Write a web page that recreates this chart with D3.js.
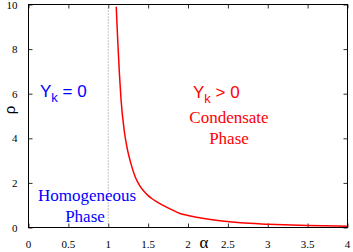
<!DOCTYPE html>
<html>
<head>
<meta charset="utf-8">
<script src="https://cdn.jsdelivr.net/npm/d3@7"></script>
<style>
  body { margin: 0; background: #fff; }
  svg { display: block; }
  .tick-label { font-family: "Liberation Serif", serif; font-size: 11px; fill: #000; }
</style>
</head>
<body>
<div id="chart"></div>
<script>
// critical line rho_c(alpha)
const alphaVals = [1.10, 1.12, 1.14, 1.16, 1.20, 1.24, 1.28, 1.34, 1.40, 1.45, 1.5, 1.55, 1.6, 1.7, 1.8, 1.9, 2.0, 2.16, 2.4, 2.66, 3.0, 3.5, 4.0];
const rhoVals   = [9.9, 8.3, 6.9, 5.75, 4.35, 3.5, 2.92, 2.25, 1.84, 1.61, 1.43, 1.29, 1.17, 0.97, 0.79, 0.63, 0.54, 0.43, 0.30, 0.21, 0.15, 0.09, 0.06];

const xTicks = [0, 0.5, 1, 1.5, 2, 2.5, 3, 3.5, 4];
const yTicks = [0, 2, 4, 6, 8, 10];
const boundaryAlpha = 1;

const width = 353, height = 252;
const margin = { top: 4, right: 6, bottom: 25, left: 28 };
const iw = width - margin.left - margin.right;
const ih = height - margin.top - margin.bottom;

const svg = d3.select('#chart').append('svg')
  .attr('width', width)
  .attr('height', height);

const g = svg.append('g')
  .attr('transform', `translate(${margin.left + 0.5},${margin.top + 0.5})`);

const x = d3.scaleLinear().domain([0, 4]).range([0, iw]);
const y = d3.scaleLinear().domain([0, 10]).range([ih, 0]);

// inward ticks on all four sides
const fmt = d => String(d);
g.append('g').attr('transform', `translate(0,${ih})`)
  .call(d3.axisBottom(x).tickValues(xTicks).tickSize(-4).tickFormat(''));
g.append('g')
  .call(d3.axisTop(x).tickValues(xTicks).tickSize(-4).tickFormat(''));
g.append('g')
  .call(d3.axisLeft(y).tickValues(yTicks).tickSize(-4).tickFormat(''));
g.append('g').attr('transform', `translate(${iw},0)`)
  .call(d3.axisRight(y).tickValues(yTicks).tickSize(-4).tickFormat(''));
g.selectAll('.domain').remove();
g.selectAll('.tick line').attr('stroke', '#333');

// tick labels
g.selectAll('.xl').data(xTicks).join('text')
  .attr('class', 'tick-label')
  .attr('x', d => x(d))
  .attr('y', ih + 20)
  .attr('text-anchor', 'middle')
  .text(fmt);
g.selectAll('.yl').data(yTicks).join('text')
  .attr('class', 'tick-label')
  .attr('x', -11)
  .attr('y', d => y(d) + 4)
  .attr('text-anchor', 'end')
  .text(fmt);

// phase boundary at alpha = 1
g.append('line')
  .attr('x1', x(boundaryAlpha)).attr('x2', x(boundaryAlpha))
  .attr('y1', 0).attr('y2', ih)
  .attr('stroke', '#888')
  .attr('stroke-dasharray', '1,2');

// curve
const pts = alphaVals.map((a, i) => [a, rhoVals[i]]);
g.append('path')
  .datum(pts)
  .attr('fill', 'none')
  .attr('stroke', '#ff0000')
  .attr('stroke-width', 1.5)
  .attr('d', d3.line().x(d => x(d[0])).y(d => y(d[1])).curve(d3.curveMonotoneX));

// frame
g.append('rect')
  .attr('width', iw).attr('height', ih)
  .attr('fill', 'none')
  .attr('stroke', '#000');

// axis titles
svg.append('text')
  .attr('x', 204).attr('y', 248)
  .attr('text-anchor', 'middle')
  .attr('font-family', 'Liberation Serif, serif')
  .attr('font-size', 17)
  .text('α');
svg.append('text')
  .attr('transform', 'translate(9,110) rotate(-90)')
  .attr('text-anchor', 'middle')
  .attr('dominant-baseline', 'central')
  .attr('font-family', 'Liberation Sans, sans-serif')
  .attr('font-size', 15)
  .text('ρ');

// annotations
const yk = (tx, ty, rest, color) => {
  const t = svg.append('text')
    .attr('x', tx).attr('y', ty)
    .attr('font-family', 'Liberation Sans, sans-serif')
    .attr('font-size', 17)
    .attr('fill', color);
  t.append('tspan').text('Y');
  t.append('tspan').attr('font-size', 13).attr('dy', 5).text('k');
  t.append('tspan').attr('dy', -5).text(rest);
};
yk(40, 97, ' = 0', '#0000ff');
yk(193, 98, ' > 0', '#ff0000');

const serif = (tx, ty, s, color) => svg.append('text')
  .attr('x', tx).attr('y', ty)
  .attr('text-anchor', 'middle')
  .attr('font-family', 'Liberation Serif, serif')
  .attr('font-size', 17)
  .attr('fill', color)
  .text(s);
serif(229, 123, 'Condensate', '#ff0000');
serif(229, 144, 'Phase', '#ff0000');
serif(87, 201, 'Homogeneous', '#0000ff');
serif(85, 222, 'Phase', '#0000ff');
</script>
</body>
</html>
